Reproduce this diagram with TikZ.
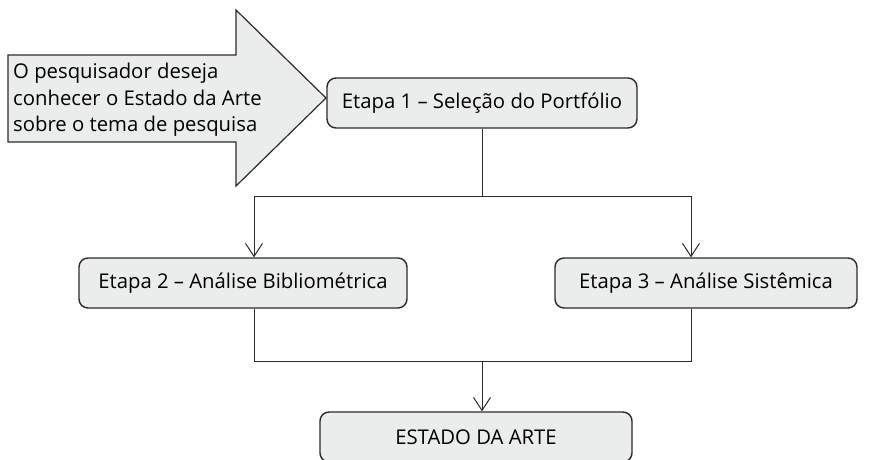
\documentclass[tikz,border=0pt]{standalone}
\usepackage{fontspec}
\setmainfont{Open Sans}
\usetikzlibrary{arrows.meta}
\definecolor{boxfill}{HTML}{EBECEC}
\definecolor{linec}{HTML}{2B2B2B}
\tikzset{
  stagebox/.style={draw=linec, line width=1.4pt, fill=boxfill, rounded corners=9pt, font=\fontsize{20.3}{24}\selectfont, text=black},
  conn/.style={draw=linec, line width=1pt},
  arr/.style={conn, -{Straight Barb[length=13pt,width=17pt,line width=1pt]}}
}
\begin{document}
\begin{tikzpicture}[x=1pt,y=-1pt]
\useasboundingbox (0,0) rectangle (876,459);
\clip (0,0) rectangle (876,459);
% big arrow
\draw[draw=linec, line width=1.2pt, fill=boxfill] (8,55) -- (236,55) -- (236,10) -- (326,98) -- (236,186) -- (236,142) -- (8,142) -- cycle;
\node[anchor=west, align=left, font=\fontsize{20.3}{26.5}\selectfont, inner sep=0pt] (intro) at (13,100) {O pesquisador deseja\\conhecer o Estado da Arte\\sobre o tema de pesquisa};
% boxes
\node[stagebox, minimum width=310pt, minimum height=50pt] (s1) at (482,103) {Etapa 1 – Seleção do Portfólio};
\node[stagebox, minimum width=328pt, minimum height=50pt] (s2) at (243,283) {Etapa 2 – Análise Bibliométrica};
\node[stagebox, minimum width=302pt, minimum height=50pt] (s3) at (706,283) {Etapa 3 – Análise Sistêmica};
\node[stagebox, minimum width=312pt, minimum height=50pt] (s4) at (476,437) {ESTADO DA ARTE};
% connectors
\coordinate (j1) at (482,196);
\coordinate (l1) at (254,196);
\coordinate (r1) at (691,196);
\draw[conn] (s1.south) -- (j1);
\draw[conn] (l1) -- (r1);
\draw[arr] (l1) -- (l1 |- s2.north);
\draw[arr] (r1) -- (r1 |- s3.north);
\coordinate (l2) at (254,361);
\coordinate (r2) at (691,361);
\coordinate (j2) at (482,361);
\draw[conn] (l2 |- s2.south) -- (l2) -- (r2) -- (r2 |- s3.south);
\draw[arr] (j2) -- (j2 |- s4.north);
\end{tikzpicture}
\end{document}
